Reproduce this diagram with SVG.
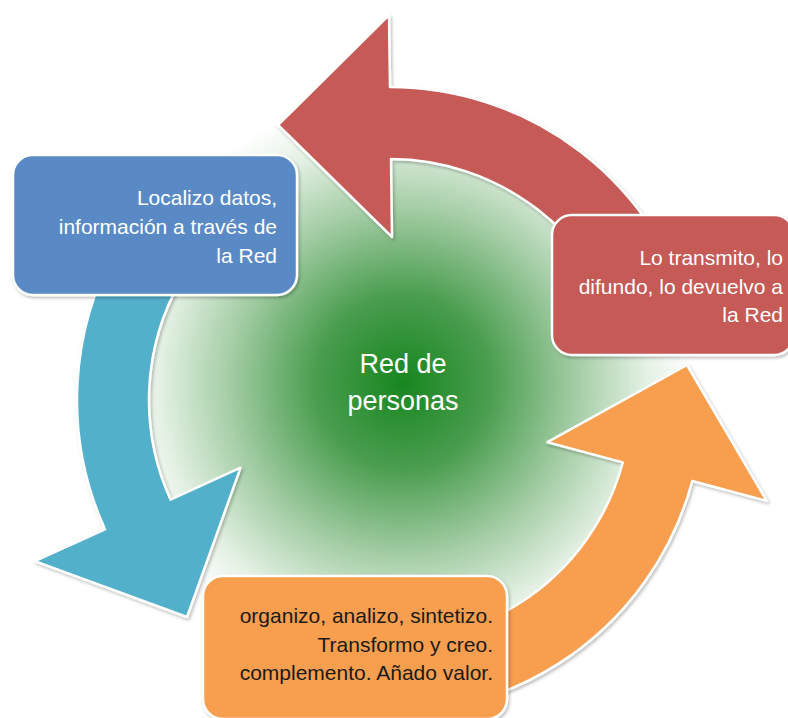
<svg xmlns="http://www.w3.org/2000/svg" width="788" height="718" viewBox="0 0 788 718">
  <defs>
    <radialGradient id="greenGrad" cx="403" cy="382" r="290" gradientUnits="userSpaceOnUse">
      <stop offset="0" stop-color="#17861f"/>
      <stop offset="0.3" stop-color="#4a9d4f"/>
      <stop offset="0.6" stop-color="#a4cda5"/>
      <stop offset="0.85" stop-color="#e6f2e6"/>
      <stop offset="1" stop-color="#ffffff"/>
    </radialGradient>
    <filter id="shadow" x="-10%" y="-10%" width="120%" height="120%">
      <feDropShadow dx="1.5" dy="2" stdDeviation="1.5" flood-color="#000000" flood-opacity="0.25"/>
    </filter>
  </defs>
  <style>
    .shape { stroke: #ffffff; stroke-width: 2.5; stroke-linejoin: round; filter: url(#shadow); }
    .red { fill: #c55a57; }
    .cyan { fill: #52b0cb; }
    .orange { fill: #f79e50; }
    .blue { fill: #5a8ac6; }
    .lbl { font-family: "Liberation Sans", "DejaVu Sans", sans-serif; font-size: 21px; text-anchor: end; }
    .white { fill: #ffffff; }
    .dark { fill: #1a1a1a; }
    .center { font-family: "Liberation Sans", "DejaVu Sans", sans-serif; font-size: 27px; text-anchor: middle; fill: #ffffff; }
  </style>

  <rect x="0" y="0" width="788" height="718" fill="#ffffff"/>

  <g id="center">
    <circle cx="403" cy="382" r="290" fill="url(#greenGrad)"/>
    <text class="center" x="403" y="373">Red de</text>
    <text class="center" x="403" y="410">personas</text>
  </g>

  <g id="connectors">
    <path id="arrow-red" class="shape red" d="M 692.3 319 A 313 313 0 0 0 390 87 L 389 15 L 278 125 L 392 237 L 391 159 A 241 241 0 0 1 622.8 337.6 Z"/>
    <path id="arrow-cyan" class="shape cyan" d="M 118.9 243.5 A 313 313 0 0 0 105 529.3 L 34.8 561.1 L 187 617 L 240.6 467.7 L 170.5 499.6 A 241 241 0 0 1 181.3 279.5 Z"/>
    <path id="arrow-orange" class="shape orange" d="M 335.7 708.2 A 313 313 0 0 0 692.3 481 L 766.7 500.9 L 687 365 L 547.4 442.2 L 622.8 462.4 A 241 241 0 0 1 348.2 637.3 Z"/>
  </g>

  <g id="node-localizo">
    <rect class="shape blue" x="13" y="155" width="284" height="140" rx="20" ry="20"/>
    <text class="lbl white" x="277" y="205">Localizo datos,</text>
    <text class="lbl white" x="277" y="234">información a través de</text>
    <text class="lbl white" x="277" y="263">la Red</text>
  </g>

  <g id="node-transmito">
    <rect class="shape red" x="552" y="215" width="242" height="140" rx="20" ry="20"/>
    <text class="lbl white" x="783" y="265">Lo transmito, lo</text>
    <text class="lbl white" x="783" y="294">difundo, lo devuelvo a</text>
    <text class="lbl white" x="783" y="322">la Red</text>
  </g>

  <g id="node-organizo">
    <rect class="shape orange" x="203" y="576" width="304" height="143" rx="20" ry="20"/>
    <text class="lbl dark" x="493" y="623">organizo, analizo, sintetizo.</text>
    <text class="lbl dark" x="493" y="652">Transformo y creo.</text>
    <text class="lbl dark" x="493" y="680">complemento. Añado valor.</text>
  </g>
</svg>
